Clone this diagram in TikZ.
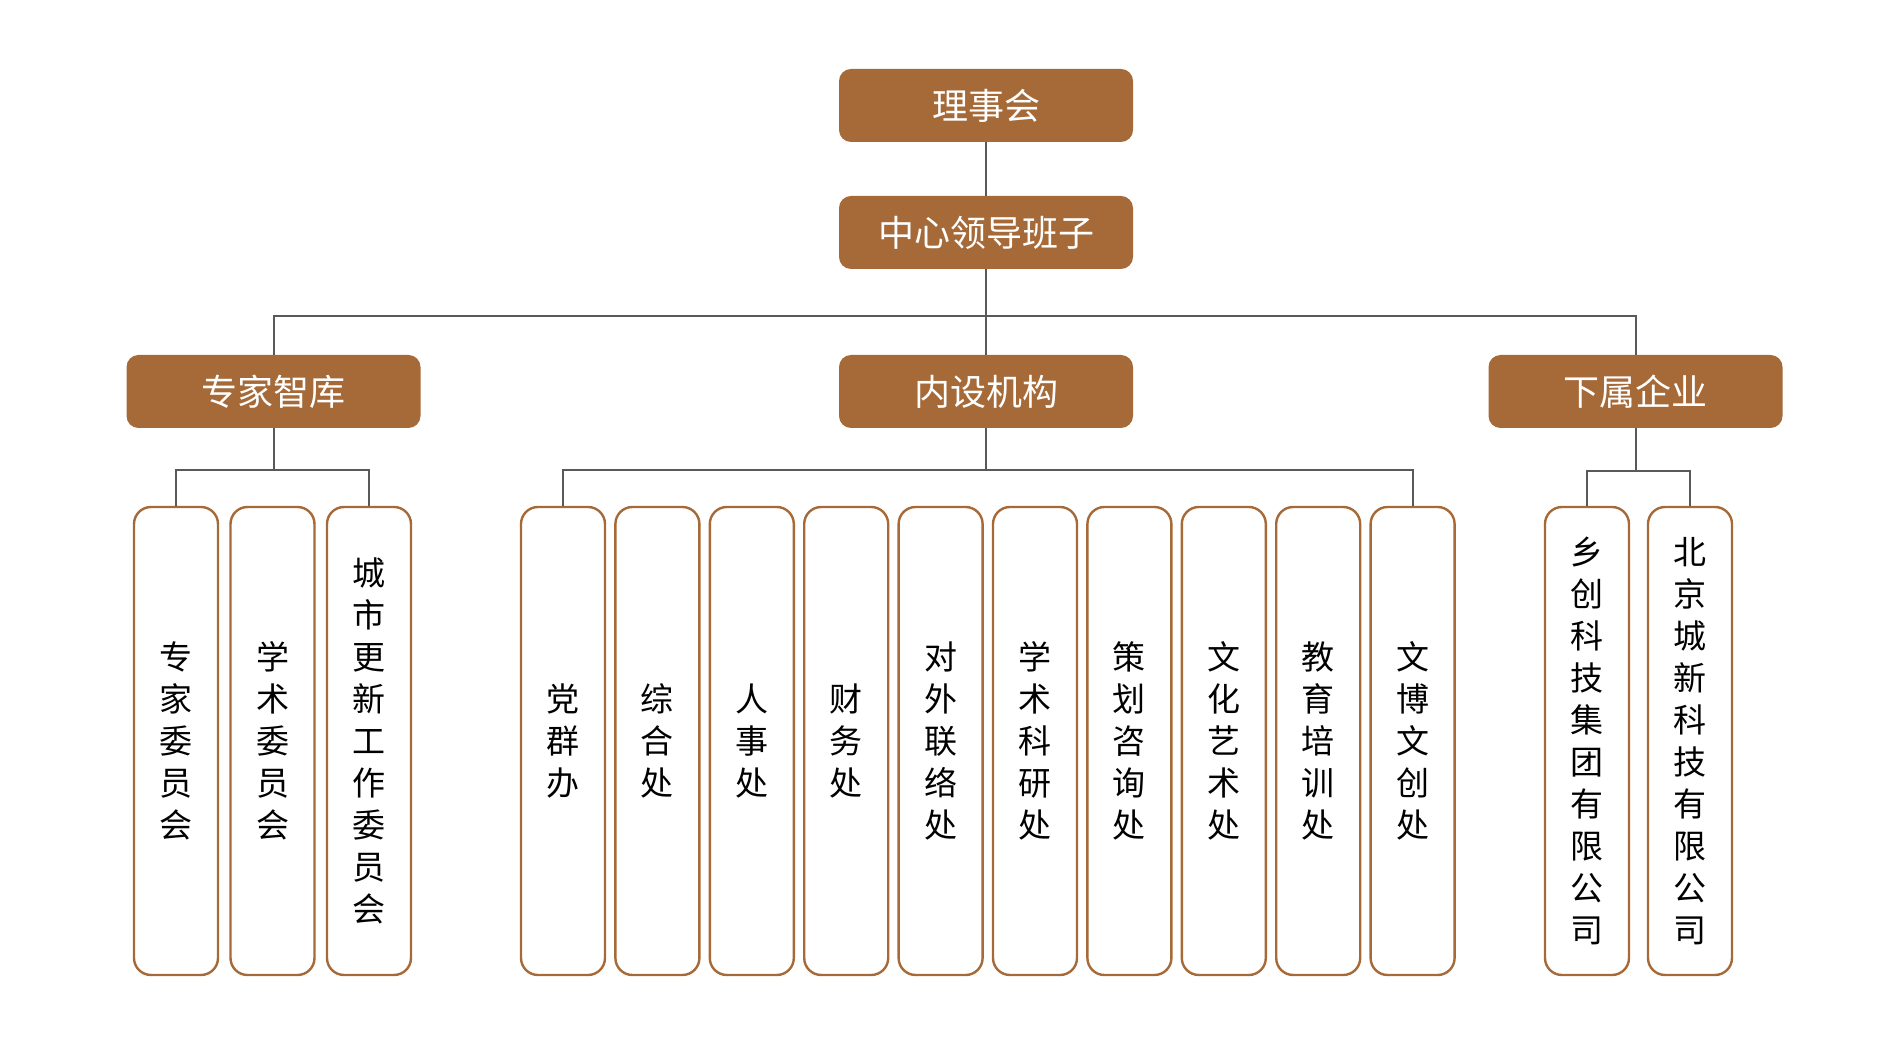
\documentclass[tikz,border=0pt]{standalone}
\usepackage{fontspec}
\setmainfont{Noto Sans CJK SC}
\usepackage{tikz}
\usepackage{xcolor}
\usetikzlibrary{calc}

\definecolor{brownbox}{HTML}{A66938}
\definecolor{linegray}{HTML}{595959}

\begin{document}
\begin{tikzpicture}[x=0.5pt, y=-0.5pt,
  head/.style={fill=brownbox, rounded corners=6pt, minimum width=147pt, minimum height=36.5pt,
    inner sep=0pt, text=white, font=\fontsize{18}{20}\selectfont},
  unit/.style={draw=brownbox, line width=1.2pt, rounded corners=8.5pt, minimum width=42pt,
    minimum height=234pt, inner sep=0pt, align=center, font=\fontsize{16.5}{21}\selectfont},
  conn/.style={draw=linegray, line width=1pt}]

  \useasboundingbox (0,0) rectangle (1881,1058);

  \node[head] (board)  at (986,105.5)    {理事会};
  \node[head] (lead)   at (986,232.5)    {中心领导班子};
  \node[head] (expert) at (273.5,391.5)  {专家智库};
  \node[head] (inner)  at (986,391.5)    {内设机构};
  \node[head] (firm)   at (1635.5,391.5) {下属企业};

  \node[unit] (e1) at (176,741)   {专\\家\\委\\员\\会};
  \node[unit] (e2) at (272.5,741) {学\\术\\委\\员\\会};
  \node[unit] (e3) at (369,741)   {城\\市\\更\\新\\工\\作\\委\\员\\会};

  \node[unit] (d1)  at (563,741)    {党\\群\\办};
  \node[unit] (d2)  at (657.4,741)  {综\\合\\处};
  \node[unit] (d3)  at (751.8,741)  {人\\事\\处};
  \node[unit] (d4)  at (846.2,741)  {财\\务\\处};
  \node[unit] (d5)  at (940.6,741)  {对\\外\\联\\络\\处};
  \node[unit] (d6)  at (1035,741)   {学\\术\\科\\研\\处};
  \node[unit] (d7)  at (1129.4,741) {策\\划\\咨\\询\\处};
  \node[unit] (d8)  at (1223.8,741) {文\\化\\艺\\术\\处};
  \node[unit] (d9)  at (1318.2,741) {教\\育\\培\\训\\处};
  \node[unit] (d10) at (1412.6,741) {文\\博\\文\\创\\处};

  \node[unit] (f1) at (1587,741) {乡\\创\\科\\技\\集\\团\\有\\限\\公\\司};
  \node[unit] (f2) at (1690,741) {北\\京\\城\\新\\科\\技\\有\\限\\公\\司};

  \coordinate (topbus) at (986,316);
  \coordinate (ebus)   at (273.5,470);
  \coordinate (dbus)   at (986,470);
  \coordinate (fbus)   at (1635.5,471);

  \draw[conn] (board) -- (lead);
  \draw[conn] (lead) -- (inner);
  \draw[conn] (expert.north) |- (topbus) -| (firm.north);

  \draw[conn] (expert) -- (ebus);
  \draw[conn] (e1.north) |- (ebus) -| (e3.north);

  \draw[conn] (inner) -- (dbus);
  \draw[conn] (d1.north) |- (dbus) -| (d10.north);

  \draw[conn] (firm) -- (fbus);
  \draw[conn] (f1.north) |- (fbus) -| (f2.north);

\end{tikzpicture}
\end{document}
